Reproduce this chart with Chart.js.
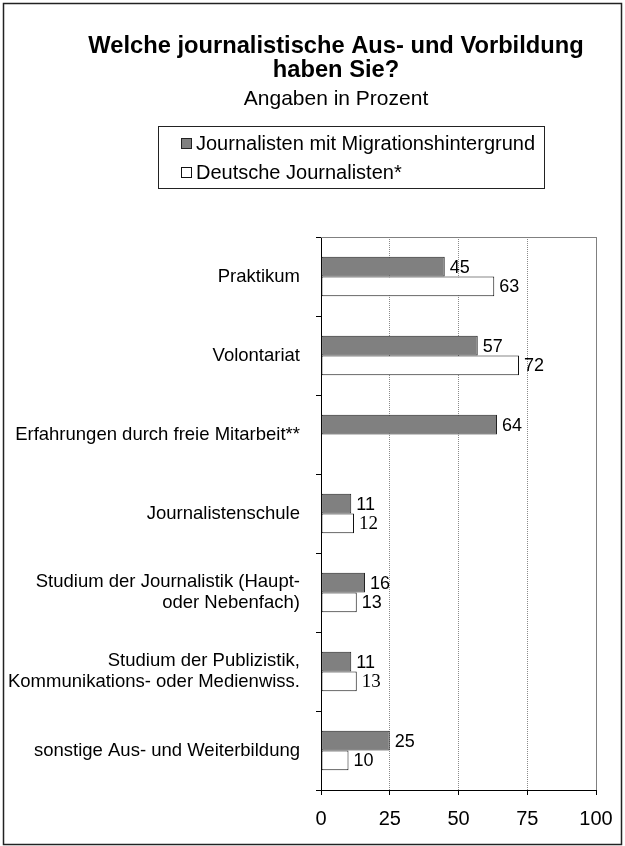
<!DOCTYPE html>
<html lang="de">
<head>
<meta charset="utf-8">
<title>Journalistische Aus- und Vorbildung</title>
<script src="https://cdn.jsdelivr.net/npm/chart.js@4.4.1/dist/chart.umd.min.js"></script>
<style>
  html, body { margin: 0; padding: 0; background: #fff; }
  #wrap { position: relative; width: 625px; height: 846px; }
</style>
</head>
<body>
<div id="wrap"><canvas id="chart-ausbildung" width="625" height="846"></canvas></div>
<script>
// =============================================
// Daten
// =============================================

const kategorien = [
  'Praktikum',
  'Volontariat',
  'Erfahrungen durch freie Mitarbeit**',
  'Journalistenschule',
  ['Studium der Journalistik (Haupt-', 'oder Nebenfach)'],
  ['Studium der Publizistik,', 'Kommunikations- oder Medienwiss.'],
  'sonstige Aus- und Weiterbildung',
];

const migration = [45, 57, 64, 11, 16, 11, 25];
const deutsche = [63, 72, null, 12, 13, 13, 10];

const serieNamen = ['Journalisten mit Migrationshintergrund', 'Deutsche Journalisten*'];
const xTicks = [0, 25, 50, 75, 100];

// im Original in Times gesetzt
const serifLabels = ['1-3', '1-5'];

const FONT = '"Liberation Sans", Arial, Helvetica, sans-serif';

// =============================================
// Plugins: Rahmen, Titelversatz, Legende, Werte
// =============================================

const rahmenPlugin = {
  id: 'rahmen',
  beforeDraw(chart) {
    const { ctx } = chart;
    ctx.save();
    ctx.fillStyle = '#fff';
    ctx.fillRect(0, 0, chart.width, chart.height);
    ctx.strokeStyle = '#222';
    ctx.lineWidth = 1.5;
    ctx.strokeRect(3.5, 3.5, 618, 841);
    ctx.restore();
  },
  beforeDatasetsDraw(chart) {
    const { ctx, chartArea: a } = chart;
    ctx.save();
    ctx.strokeStyle = '#808080';
    ctx.lineWidth = 1;
    ctx.beginPath();
    ctx.moveTo(a.left, a.top + 0.5);
    ctx.lineTo(a.right + 0.5, a.top + 0.5);
    ctx.lineTo(a.right + 0.5, a.bottom);
    ctx.stroke();
    ctx.restore();
  }
};

// Titel und Untertitel stehen im Original etwas rechts der Mitte
const titelPlugin = {
  id: 'titelVersatz',
  afterLayout(chart, args, opts) {
    chart.boxes.forEach(b => {
      if (b.options && 'text' in b.options && !b.axis) b.left += opts.shift;
    });
  }
};

const legendePlugin = {
  id: 'legendeBox',
  afterDraw(chart, args, opts) {
    const { ctx } = chart;
    ctx.save();
    ctx.strokeStyle = '#222';
    ctx.lineWidth = 1;
    ctx.strokeRect(opts.left + 0.5, opts.top + 0.5, opts.width, opts.height);
    ctx.font = `20px ${FONT}`;
    ctx.textBaseline = 'middle';
    chart.data.datasets.forEach((ds, i) => {
      const y = opts.top + 17 + i * 29;
      ctx.fillStyle = ds.backgroundColor;
      ctx.fillRect(opts.left + 23, y - 5, 10, 10);
      ctx.strokeStyle = ds.borderColor;
      ctx.strokeRect(opts.left + 23.5, y - 4.5, 10, 10);
      ctx.fillStyle = '#000';
      ctx.fillText(ds.label, opts.left + 38, y + 1);
    });
    ctx.restore();
  }
};

const wertePlugin = {
  id: 'werte',
  afterDatasetsDraw(chart) {
    const { ctx } = chart;
    ctx.save();
    ctx.textBaseline = 'middle';
    ctx.fillStyle = '#000';
    chart.data.datasets.forEach((ds, di) => {
      const meta = chart.getDatasetMeta(di);
      meta.data.forEach((bar, i) => {
        const v = ds.data[i];
        if (v == null) return;
        const serif = serifLabels.includes(`${di}-${i}`);
        ctx.font = serif ? '19px "Liberation Serif", "Times New Roman", serif' : `18px ${FONT}`;
        ctx.fillText(String(v), bar.x + 5, bar.y + 1);
      });
    });
    ctx.restore();
  }
};

// =============================================
// Diagramm
// =============================================

Chart.defaults.color = '#000';
Chart.defaults.font.family = FONT;

new Chart(document.getElementById('chart-ausbildung'), {
  type: 'bar',
  data: {
    labels: kategorien,
    datasets: [
      {
        label: serieNamen[0],
        data: migration,
        backgroundColor: '#808080',
        borderColor: '#222',
        borderWidth: 1,
        borderSkipped: false,
        categoryPercentage: 0.5,
        barPercentage: 1.0,
      },
      {
        label: serieNamen[1],
        data: deutsche,
        backgroundColor: '#fff',
        borderColor: '#111',
        borderWidth: 1,
        borderSkipped: false,
        categoryPercentage: 0.5,
        barPercentage: 1.0,
      }
    ]
  },
  options: {
    indexAxis: 'y',
    responsive: false,
    animation: false,
    layout: { padding: { left: 4, right: 29, top: 0, bottom: 0 } },
    plugins: {
      title: {
        display: true,
        text: ['Welche journalistische Aus- und Vorbildung', 'haben Sie?'],
        color: '#000',
        font: { size: 23.7, weight: 'bold', lineHeight: 1.0 },
        padding: { top: 35, bottom: 4 },
      },
      subtitle: {
        display: true,
        text: 'Angaben in Prozent',
        color: '#000',
        font: { size: 21, lineHeight: 1.2 },
        padding: { top: 0, bottom: 125.4 },
      },
      legend: { display: false },
      tooltip: { enabled: false },
      titelVersatz: { shift: 72 },
      legendeBox: { left: 158, top: 126, width: 386, height: 62 },
    },
    scales: {
      x: {
        min: 0,
        max: 100,
        afterBuildTicks: s => { s.ticks = xTicks.map(v => ({ value: v })); },
        afterFit: s => { s.height = 56; },
        ticks: { font: { size: 20 }, padding: 12, color: '#000' },
        grid: {
          color: c => (c.tick && c.tick.value === 0) ? 'rgba(0,0,0,0)' : '#8a8a8a',
          lineWidth: 1,
          tickColor: '#000',
          tickLength: 5,
        },
        border: { display: true, color: '#000', width: 1, dash: [1, 1] },
      },
      y: {
        afterFit: s => { s.width = 317; },
        ticks: { font: { size: 18.5, lineHeight: 1.1 }, padding: 16, color: '#000', autoSkip: false },
        grid: {
          drawOnChartArea: false,
          offset: true,
          tickColor: '#000',
          tickLength: 5,
        },
        border: { display: true, color: '#000', width: 1 },
      }
    }
  },
  plugins: [rahmenPlugin, titelPlugin, legendePlugin, wertePlugin]
});
</script>
</body>
</html>
